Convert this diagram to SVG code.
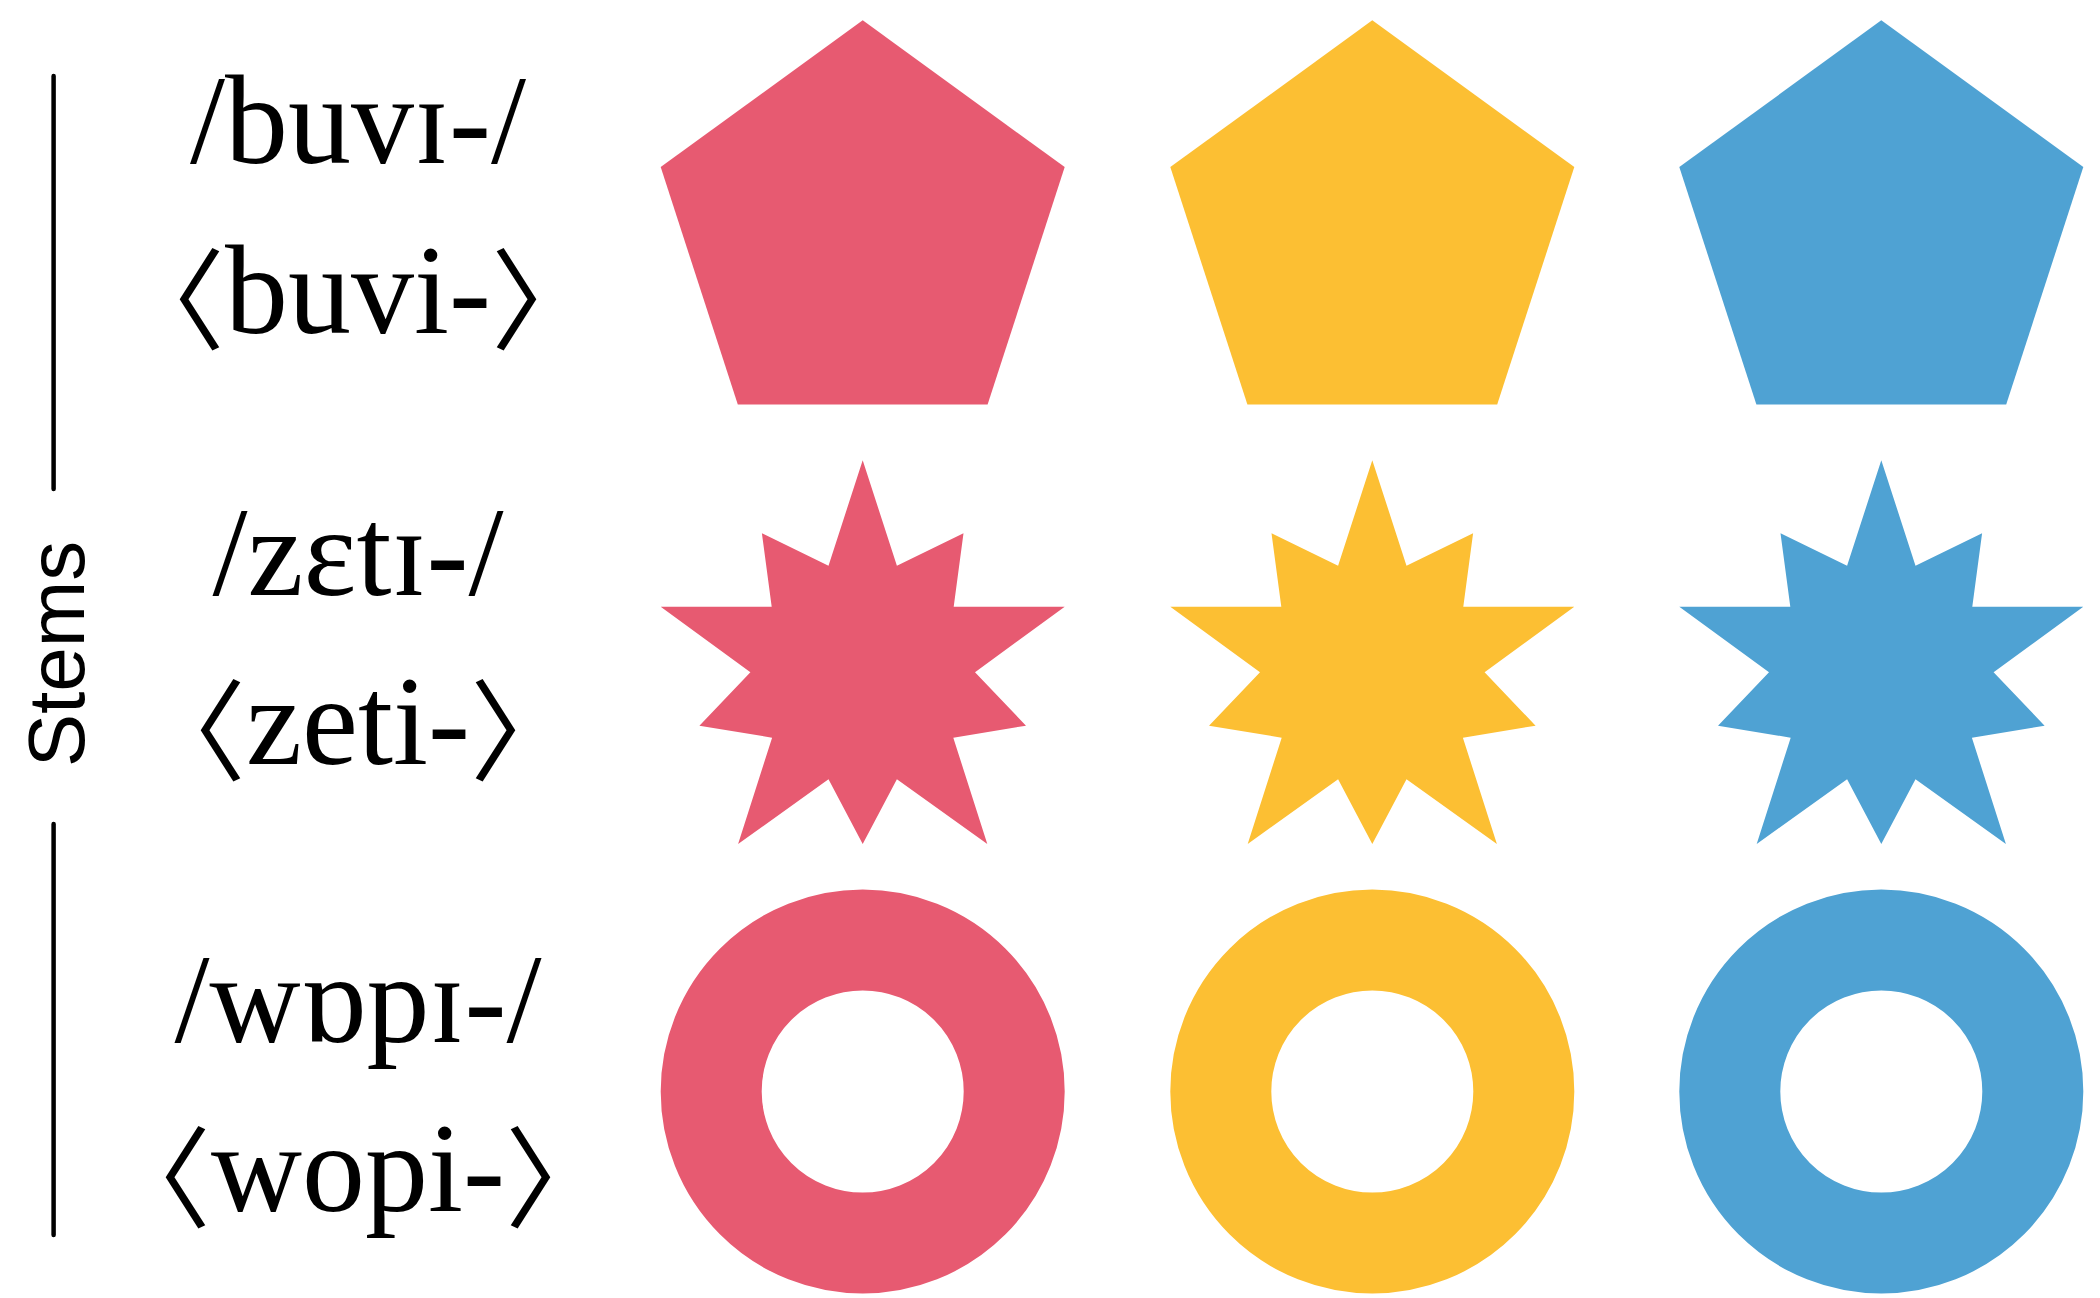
<svg xmlns="http://www.w3.org/2000/svg" xmlns:xlink="http://www.w3.org/1999/xlink" width="2100" height="1298" viewBox="0 0 2100 1298">
  <style>
    .lbl { font-family: "Liberation Serif", "DejaVu Serif", serif; font-size: 126px; fill: #000; text-anchor: middle; }
    .br { font-family: "Noto Sans CJK JP", sans-serif; font-size: 110px; }
    .axis { font-family: "Liberation Sans", "DejaVu Sans", sans-serif; font-size: 80px; fill: #000; text-anchor: middle; }
    .rule { stroke: #000; stroke-width: 4.5; stroke-linecap: round; fill: none; }
    .red { fill: #E75A71; }
    .yel { fill: #FCBF33; }
    .blu { fill: #4FA2D3; }
    .ring { fill: none; stroke-width: 101; }
    .ring.red { stroke: #E75A71; }
    .ring.yel { stroke: #FCBF33; }
    .ring.blu { stroke: #4FA2D3; }
  </style>
  <defs>
    <path id="pent" d="M0,-212.4 L202,-65.6 L124.9,171.8 L-124.9,171.8 L-202,-65.6 Z"/>
    <path id="star" d="M0,-212.4 L34.2,-107 L100.8,-139.4 L91,-66 L202,-66 L112.3,-0.4 L163.3,53 L90.6,65 L124.6,171.3 L34.2,106.6 L0,171.3 L-34.2,106.6 L-124.6,171.3 L-90.6,65 L-163.3,53 L-112.3,-0.4 L-202,-66 L-91,-66 L-100.8,-139.4 L-34.2,-107 Z"/>
  </defs>

  <g id="axis-label">
    <line class="rule" x1="53.6" y1="76" x2="53.6" y2="489"/>
    <line class="rule" x1="53.6" y1="824" x2="53.6" y2="1235"/>
    <text class="axis" transform="translate(84,654) rotate(-90)">Stems</text>
  </g>

  <g id="labels">
    <g id="stem-buvi">
      <text class="lbl" x="358" y="162.7">/buvɪ-/</text>
      <text class="lbl" x="358" y="332.7"><tspan class="br" dy="8">&#x3008;</tspan><tspan dy="-8">buvi-</tspan><tspan class="br" dy="8">&#x3009;</tspan></text>
    </g>
    <g id="stem-zeti">
      <text class="lbl" x="358" y="595">/zɛtɪ-/</text>
      <text class="lbl" x="358" y="764"><tspan class="br" dy="8">&#x3008;</tspan><tspan dy="-8">zeti-</tspan><tspan class="br" dy="8">&#x3009;</tspan></text>
    </g>
    <g id="stem-wopi">
      <text class="lbl" x="358" y="1041.7">/wɒpɪ-/</text>
      <text class="lbl" x="358" y="1210.7"><tspan class="br" dy="8">&#x3008;</tspan><tspan dy="-8">wopi-</tspan><tspan class="br" dy="8">&#x3009;</tspan></text>
    </g>
  </g>

  <g id="shapes">
    <g id="pentagon-red"><use xlink:href="#pent" href="#pent" class="red" transform="translate(862.7,232.7)"/></g>
    <g id="pentagon-yellow"><use xlink:href="#pent" href="#pent" class="yel" transform="translate(1372.3,232.7)"/></g>
    <g id="pentagon-blue"><use xlink:href="#pent" href="#pent" class="blu" transform="translate(1881.3,232.7)"/></g>

    <g id="star-red"><use xlink:href="#star" href="#star" class="red" transform="translate(862.7,672.7)"/></g>
    <g id="star-yellow"><use xlink:href="#star" href="#star" class="yel" transform="translate(1372.3,672.7)"/></g>
    <g id="star-blue"><use xlink:href="#star" href="#star" class="blu" transform="translate(1881.3,672.7)"/></g>

    <g id="ring-red"><circle class="ring red" cx="862.7" cy="1091.5" r="151.5"/></g>
    <g id="ring-yellow"><circle class="ring yel" cx="1372.3" cy="1091.5" r="151.5"/></g>
    <g id="ring-blue"><circle class="ring blu" cx="1881.3" cy="1091.5" r="151.5"/></g>
  </g>

  <g id="connectors"/>
</svg>
